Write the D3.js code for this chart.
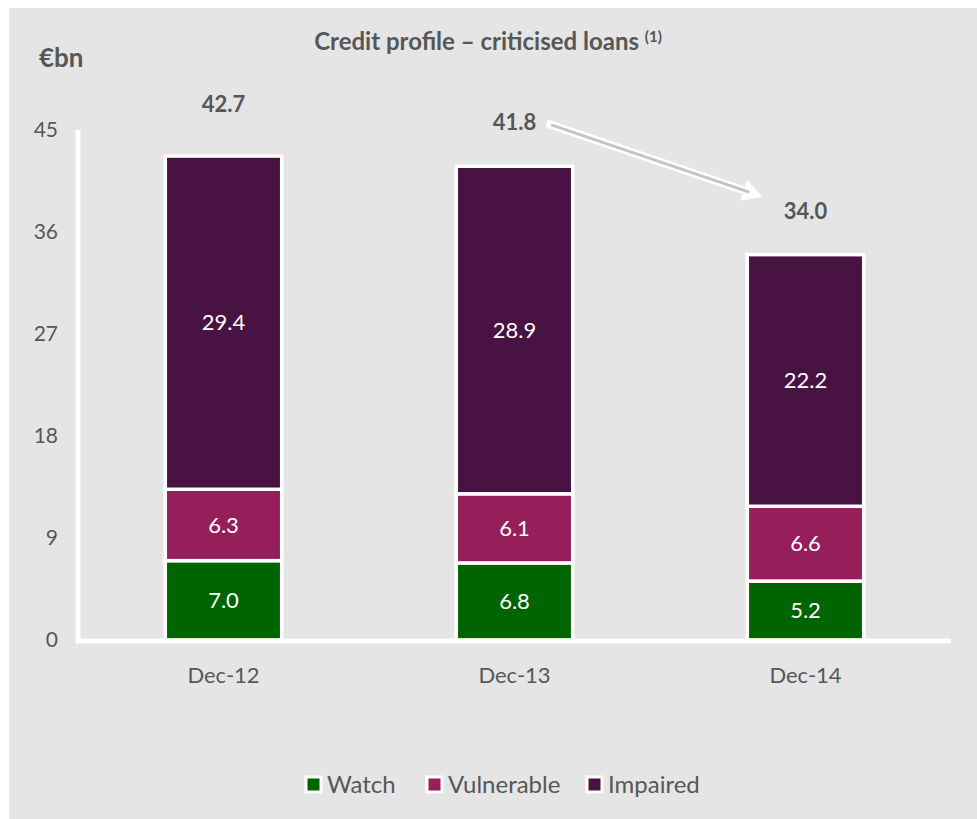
<!DOCTYPE html>
<html>
  <head>
    <meta charset="utf-8">
    <title>Credit profile - criticised loans</title>
    <style>
      body { margin: 0; background: #fff; overflow: hidden; }
      svg text { font-family: Lato, "Open Sans", sans-serif; fill: #575757; }
      .seg-label { fill: #fff; }
    </style>
  </head>
  <body>
    <svg width="977" height="819"></svg>
    <script src="https://d3js.org/d3.v7.min.js"></script>
    <script>
      const categories = ['Dec-12', 'Dec-13', 'Dec-14'];
      const seriesNames = ['Watch', 'Vulnerable', 'Impaired'];
      const watch = [7.0, 6.8, 5.2];
      const vulnerable = [6.3, 6.1, 6.6];
      const impaired = [29.4, 28.9, 22.2];
      const totals = [42.7, 41.8, 34.0];
      const yTicks = [0, 9, 18, 27, 36, 45];

      const colors = { Watch: '#006400', Vulnerable: '#951e5b', Impaired: '#481242' };

      const svg = d3.select('svg');

      // grey panel
      svg.append('rect')
        .attr('x', 9).attr('y', 8)
        .attr('width', 968).attr('height', 811)
        .attr('fill', '#e5e5e5');

      const x = d3.scaleBand()
        .domain(categories)
        .range([78, 951])
        .paddingInner(0.6)
        .paddingOuter(0.3);

      const y = d3.scaleLinear()
        .domain([0, 45])
        .range([640, 130]);

      const rows = categories.map((c, i) => ({
        cat: c, Watch: watch[i], Vulnerable: vulnerable[i], Impaired: impaired[i], total: totals[i]
      }));
      const stacked = d3.stack().keys(seriesNames)(rows);

      // bars
      const layer = svg.append('g').selectAll('g')
        .data(stacked)
        .join('g')
        .attr('fill', d => colors[d.key]);

      layer.selectAll('rect')
        .data(d => d)
        .join('rect')
        .attr('x', d => x(d.data.cat))
        .attr('width', x.bandwidth())
        .attr('y', d => y(d[1]))
        .attr('height', d => y(d[0]) - y(d[1]))
        .attr('stroke', '#fff')
        .attr('stroke-width', 3.5);

      layer.selectAll('text')
        .data(d => d)
        .join('text')
        .attr('class', 'seg-label')
        .attr('x', d => x(d.data.cat) + x.bandwidth() / 2)
        .attr('y', d => (y(d[0]) + y(d[1])) / 2)
        .attr('dy', '0.35em')
        .attr('text-anchor', 'middle')
        .style('font-size', '22px')
        .text(d => (d[1] - d[0]).toFixed(1));

      // axes (white lines)
      svg.append('line')
        .attr('x1', 78).attr('x2', 78)
        .attr('y1', y(45)).attr('y2', y(0) + 3)
        .attr('stroke', '#fff').attr('stroke-width', 5);
      svg.append('line')
        .attr('x1', 76).attr('x2', 951)
        .attr('y1', y(0) + 1).attr('y2', y(0) + 1)
        .attr('stroke', '#fff').attr('stroke-width', 5);

      const yAxis = svg.append('g')
        .attr('transform', 'translate(58,0)')
        .call(d3.axisLeft(y).tickValues(yTicks).tickSize(0).tickPadding(0));
      yAxis.select('.domain').remove();
      yAxis.selectAll('text')
        .style('font-size', '21px')
        .style('fill', '#575757')
        .style('font-family', 'Lato, sans-serif');

      const xAxis = svg.append('g')
        .attr('transform', 'translate(0,' + (y(0) + 27) + ')')
        .call(d3.axisBottom(x).tickSize(0).tickPadding(0));
      xAxis.select('.domain').remove();
      xAxis.selectAll('text')
        .style('font-size', '22px')
        .style('fill', '#575757')
        .style('font-family', 'Lato, sans-serif');

      // totals
      svg.append('g').selectAll('text')
        .data(rows)
        .join('text')
        .attr('x', d => x(d.cat) + x.bandwidth() / 2)
        .attr('y', d => y(d.total) - (d.cat === 'Dec-12' ? 44 : 36))
        .attr('text-anchor', 'middle')
        .style('font-size', '22px')
        .style('font-weight', 'bold')
        .text(d => d.total.toFixed(1));

      // arrow from 41.8 to 34.0
      const ax1 = x('Dec-13') + x.bandwidth() / 2 + 32, ay1 = y(totals[1]) - 43;
      const ax2 = x('Dec-14') + x.bandwidth() / 2 - 43, ay2 = y(totals[2]) - 58;
      const ang = Math.atan2(ay2 - ay1, ax2 - ax1);
      const headLen = 20;
      const sx = ax2 - headLen * Math.cos(ang), sy = ay2 - headLen * Math.sin(ang);
      const px = -Math.sin(ang), py = Math.cos(ang);
      const arrow = svg.append('g');
      arrow.append('line')
        .attr('x1', ax1).attr('y1', ay1).attr('x2', sx).attr('y2', sy)
        .attr('stroke', '#fff').attr('stroke-width', 8);
      arrow.append('path')
        .attr('d', 'M' + ax2 + ',' + ay2 +
          'L' + (sx + px * 11) + ',' + (sy + py * 11) +
          'L' + (sx - px * 11) + ',' + (sy - py * 11) + 'Z')
        .attr('fill', '#fff');
      arrow.append('line')
        .attr('x1', ax1 + 5 * Math.cos(ang)).attr('y1', ay1 + 5 * Math.sin(ang))
        .attr('x2', sx + 6 * Math.cos(ang)).attr('y2', sy + 6 * Math.sin(ang))
        .attr('stroke', '#c4c4c4').attr('stroke-width', 3);

      // title and unit
      const title = svg.append('text')
        .attr('x', 488).attr('y', 50)
        .attr('text-anchor', 'middle')
        .style('font-size', '24px')
        .style('font-weight', 'bold');
      title.append('tspan').text('Credit profile \u2013 criticised loans ');
      title.append('tspan').attr('dy', -8).style('font-size', '15px').text('(1)');

      svg.append('text')
        .attr('x', 39).attr('y', 67)
        .style('font-size', '26px')
        .style('font-weight', 'bold')
        .text('\u20acbn');

      // legend
      const legendX = [306, 427, 587];
      const legend = svg.append('g').selectAll('g')
        .data(seriesNames)
        .join('g')
        .attr('transform', (d, i) => 'translate(' + legendX[i] + ',785)');
      legend.append('rect')
        .attr('x', 0).attr('y', -8)
        .attr('width', 15).attr('height', 15)
        .attr('fill', d => colors[d])
        .attr('stroke', '#fff').attr('stroke-width', 3);
      legend.append('text')
        .attr('x', 21).attr('dy', '0.35em')
        .style('font-size', '24px')
        .text(d => d);
    </script>
  </body>
</html>
